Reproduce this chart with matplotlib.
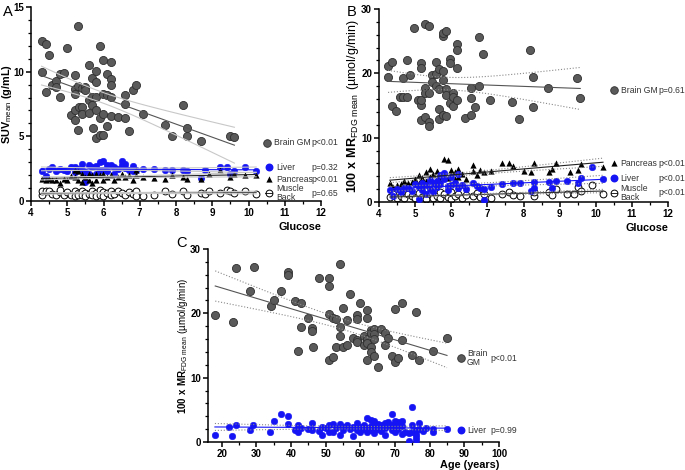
import numpy as np
import matplotlib.pyplot as plt
from matplotlib.ticker import MultipleLocator

plt.rcParams['font.family'] = ['Liberation Sans', 'DejaVu Sans']
plt.rcParams['mathtext.fontset'] = 'custom'
plt.rcParams['mathtext.rm'] = 'Liberation Sans'
plt.rcParams['mathtext.bf'] = 'Liberation Sans:bold'

# ---- Panel A: SUVmean vs glucose ----
a_brain_x = [4.29, 4.40, 4.50, 4.29, 4.40, 4.59, 4.70, 4.70, 4.80, 4.91, 4.80, 4.99, 5.30, 5.09,
             5.20, 5.20, 5.20, 5.20, 5.20, 5.31, 5.30, 5.30, 5.40, 5.40, 5.40, 5.50, 5.50, 5.59,
             5.59, 5.59, 5.68, 5.69, 5.69, 5.70, 5.79, 5.79, 5.79, 5.79, 5.79, 5.89, 5.89, 5.89,
             5.99, 5.99, 5.99, 5.99, 6.10, 6.10, 6.10, 6.20, 6.20, 6.20, 6.20, 6.20, 6.40, 6.60,
             6.60, 6.60, 6.70, 6.80, 6.90, 7.10, 7.70, 7.90, 8.19, 8.30, 8.30, 8.70, 9.49, 9.61]
a_brain_y = [12.35, 12.16, 11.3, 9.95, 8.4, 8.94, 9.3, 8.8, 9.8, 9.9, 8.04, 11.86, 13.53, 6.68,
             6.3, 7.0, 8.63, 9.72, 8.3, 7.3, 5.5, 8.9, 8.76, 7.3, 6.75, 8.8, 8.55, 10.5,
             7.78, 6.83, 9.5, 8.04, 7.4, 5.67, 10.05, 9.2, 8.04, 7.0, 4.87, 11.96, 6.44, 5.08,
             10.93, 8.3, 6.7, 5.08, 9.85, 8.17, 5.8, 10.75, 9.4, 8.94, 8.04, 6.57, 6.5, 8.17,
             7.47, 6.44, 5.4, 8.6, 8.94, 6.7, 5.9, 5.03, 7.4, 5.64, 5.03, 4.64, 5.03, 4.95]

a_liver_x = [4.29, 4.40, 4.50, 4.59, 4.70, 4.80, 4.91, 4.99, 5.09, 5.20, 5.20, 5.30, 5.40, 5.40,
             5.50, 5.50, 5.59, 5.59, 5.69, 5.79, 5.79, 5.89, 5.89, 5.99, 5.99, 6.10, 6.10, 6.20,
             6.30, 6.30, 6.40, 6.50, 6.50, 6.60, 6.60, 6.70, 6.80, 6.80, 6.90, 7.10, 7.40, 7.70,
             7.90, 8.19, 8.30, 8.70, 8.80, 9.20, 9.40, 9.49, 9.61, 9.90, 10.21]
a_liver_y = [2.32, 1.93, 2.5, 2.63, 2.32, 2.5, 2.37, 2.32, 2.63, 2.24, 2.63, 2.5, 2.89, 2.37,
             1.47, 2.24, 2.76, 2.11, 2.63, 2.68, 2.11, 3.0, 2.37, 3.09, 2.37, 2.76, 2.32, 2.76,
             2.63, 2.11, 2.5, 3.09, 2.76, 2.89, 2.58, 2.37, 2.7, 2.32, 2.37, 2.45, 2.5, 2.42,
             2.37, 2.37, 2.29, 1.8, 2.37, 2.63, 2.63, 2.06, 2.29, 2.63, 2.29]

a_panc_x = [4.29, 4.40, 4.50, 4.59, 4.70, 4.80, 4.91, 4.99, 5.09, 5.20, 5.20, 5.30, 5.30, 5.40,
            5.40, 5.50, 5.59, 5.59, 5.69, 5.69, 5.79, 5.79, 5.89, 5.99, 5.99, 6.10, 6.20, 6.30,
            6.40, 6.50, 6.60, 6.70, 6.80, 6.90, 6.90, 7.10, 7.40, 7.70, 7.90, 8.19, 8.30, 8.70,
            8.90, 9.20, 9.49, 9.61, 9.90, 10.21]
a_panc_y = [1.68, 1.6, 1.73, 1.6, 1.6, 1.39, 1.73, 1.6, 1.9, 2.42, 1.86, 2.32, 1.6, 1.47,
            2.06, 1.86, 2.11, 1.6, 1.98, 1.39, 2.11, 1.6, 1.98, 2.11, 1.6, 1.86, 1.98, 1.6,
            1.86, 2.11, 1.86, 1.98, 1.6, 1.98, 2.37, 1.86, 1.8, 1.68, 1.98, 1.86, 1.73, 1.68,
            2.06, 2.42, 1.86, 2.11, 1.98, 1.98]

a_musc_x = [4.29, 4.29, 4.40, 4.50, 4.59, 4.70, 4.80, 4.80, 4.91, 4.99, 5.09, 5.20, 5.20, 5.30,
            5.30, 5.40, 5.40, 5.50, 5.50, 5.59, 5.69, 5.69, 5.79, 5.79, 5.89, 5.89, 5.99, 5.99,
            6.10, 6.20, 6.20, 6.30, 6.40, 6.50, 6.60, 6.70, 6.80, 6.90, 6.90, 7.10, 7.40, 7.70,
            7.90, 8.19, 8.30, 8.70, 8.80, 8.90, 9.20, 9.40, 9.49, 9.61, 9.90, 10.21]
a_musc_y = [0.5, 0.75, 0.8, 0.8, 0.55, 0.45, 0.7, 0.85, 0.5, 0.7, 0.5, 0.75, 0.4, 0.6,
            0.45, 0.8, 0.5, 0.65, 0.4, 0.55, 0.8, 0.45, 0.6, 0.35, 0.85, 0.5, 0.7, 0.4,
            0.6, 0.75, 0.45, 0.55, 0.8, 0.6, 0.45, 0.7, 0.55, 0.8, 0.4, 0.35, 0.5, 0.8,
            0.55, 0.8, 0.45, 0.6, 0.55, 0.75, 0.65, 0.85, 0.75, 0.65, 0.8, 0.55]

# ---- Panel B: MRFDG vs glucose ----
b_brain_x = [4.25, 4.25, 4.36, 4.36, 4.47, 4.57, 4.66, 4.66, 4.77, 4.77, 4.87, 4.97, 5.07, 5.16,
             5.16, 5.16, 5.16, 5.16, 5.27, 5.27, 5.27, 5.27, 5.37, 5.37, 5.37, 5.37, 5.47, 5.47,
             5.57, 5.57, 5.57, 5.66, 5.66, 5.66, 5.66, 5.76, 5.76, 5.76, 5.76, 5.76, 5.86, 5.86,
             5.86, 5.86, 5.96, 5.96, 5.96, 6.06, 6.06, 6.06, 6.16, 6.16, 6.16, 6.16, 6.37, 6.56,
             6.56, 6.56, 6.67, 6.77, 6.77, 6.87, 7.07, 7.67, 7.87, 8.17, 8.26, 8.26, 8.67, 9.47,
             9.57]
b_brain_y = [21.2, 19.4, 21.8, 14.9, 14.2, 16.3, 16.4, 19.3, 16.3, 22.0, 19.8, 27.0, 15.8, 21.6,
             20.8, 15.1, 15.9, 12.8, 27.7, 17.7, 16.9, 13.2, 27.3, 12.5, 11.8, 17.0, 19.8, 18.6,
             21.7, 18.1, 19.9, 17.5, 20.6, 14.4, 12.9, 20.3, 19.0, 13.6, 25.8, 26.3, 26.6, 17.6,
             16.7, 13.3, 22.2, 21.6, 15.4, 15.0, 16.9, 16.3, 24.5, 23.7, 20.8, 15.9, 13.1, 17.7,
             16.2, 13.6, 14.8, 25.6, 18.0, 23.0, 15.8, 15.5, 12.9, 23.7, 19.4, 14.8, 17.8, 19.3,
             16.1]

b_panc_x = [4.3, 4.4, 4.5, 4.6, 4.7, 4.8, 4.9, 5.0, 5.1, 5.1, 5.2, 5.2, 5.3, 5.3, 5.4, 5.4, 5.5,
            5.5, 5.6, 5.6, 5.7, 5.7, 5.8, 5.8, 5.9, 5.9, 6.0, 6.0, 6.1, 6.1, 6.2, 6.2, 6.3, 6.4,
            6.6, 6.6, 6.7, 6.8, 6.9, 7.1, 7.4, 7.6, 7.7, 8.0, 8.3, 8.2, 8.7, 8.8, 8.9, 9.3, 9.5,
            9.6, 10.2]
b_panc_y = [3.0, 2.4, 2.6, 2.8, 3.2, 2.9, 3.1, 3.5, 3.0, 4.2, 3.8, 2.6, 4.6, 3.3, 5.2, 3.9, 4.4,
            3.0, 4.8, 3.6, 4.0, 3.2, 6.7, 4.5, 6.6, 3.8, 5.0, 4.2, 3.5, 4.6, 5.1, 3.9, 4.4, 3.6,
            5.7, 4.8, 4.2, 5.0, 4.6, 4.8, 6.0, 6.0, 5.6, 4.8, 6.0, 4.7, 4.7, 5.1, 6.1, 4.6, 5.0,
            5.9, 5.4]

b_liver_x = [4.3, 4.4, 4.5, 4.6, 4.7, 4.8, 4.9, 5.0, 5.1, 5.1, 5.2, 5.2, 5.3, 5.3, 5.4, 5.4, 5.5,
             5.5, 5.6, 5.6, 5.7, 5.7, 5.8, 5.8, 5.9, 5.9, 6.0, 6.0, 6.1, 6.2, 6.2, 6.3, 6.4, 6.6,
             6.7, 6.8, 6.9, 6.9, 7.1, 7.4, 7.7, 7.9, 8.2, 8.3, 8.3, 8.7, 8.8, 8.9, 9.2, 9.5, 9.6,
             9.9, 10.2]
b_liver_y = [1.8, 1.0, 2.0, 1.5, 2.2, 2.1, 1.7, 2.8, 2.4, 0.4, 3.0, 1.8, 2.6, 1.2, 3.4, 2.0, 2.9,
             1.6, 3.2, 2.3, 4.2, 2.8, 4.5, 3.5, 2.5, 1.9, 3.9, 2.7, 3.0, 4.4, 2.2, 2.6, 2.0, 2.9,
             2.5, 2.2, 0.3, 2.0, 2.4, 2.8, 2.9, 3.0, 1.7, 3.1, 2.2, 3.1, 2.2, 3.3, 3.3, 2.9, 3.8,
             5.4, 3.5]

b_musc_x = [4.3, 4.4, 4.5, 4.6, 4.7, 4.8, 4.9, 5.0, 5.1, 5.2, 5.3, 5.3, 5.4, 5.5, 5.6, 5.7, 5.7,
            5.8, 5.9, 6.0, 6.0, 6.1, 6.2, 6.3, 6.4, 6.6, 6.7, 6.8, 6.9, 7.1, 7.4, 7.6, 7.7, 7.9,
            8.3, 8.3, 8.7, 8.8, 8.9, 9.2, 9.4, 9.5, 9.6, 9.9, 10.2]
b_musc_y = [0.8, 1.3, 0.6, 1.0, 0.7, 1.2, 0.9, 0.6, 1.4, 0.8, 1.1, 0.5, 1.3, 0.7, 1.0, 1.5, 0.6,
            1.2, 0.8, 1.6, 0.5, 1.0, 1.3, 0.7, 1.1, 0.9, 1.4, 0.8, 1.3, 0.6, 1.3, 1.5, 1.1, 1.0,
            1.0, 1.5, 1.5, 1.1, 2.0, 1.3, 1.3, 2.3, 1.7, 2.7, 1.2]

# ---- Panel C: MRFDG vs age ----
c_brain_x = [18.1, 23.1, 24.0, 28.1, 29.2, 34.1, 35.0, 37.0, 39.0, 39.0, 41.0, 42.1, 43.0, 43.0,
             45.0, 46.0, 46.0, 46.4, 48.0, 51.0, 51.0, 51.0, 51.0, 52.0, 52.0, 53.0, 53.0, 54.0,
             54.0, 54.0, 55.0, 55.0, 56.0, 56.0, 57.0, 58.0, 59.0, 59.0, 59.0, 59.0, 60.0, 61.0,
             61.0, 62.0, 62.0, 62.0, 62.0, 62.0, 63.0, 63.0, 63.0, 63.0, 64.0, 64.0, 64.0, 64.0,
             65.0, 66.0, 67.0, 67.0, 68.0, 69.0, 70.0, 70.0, 71.0, 72.0, 72.0, 75.0, 76.0, 77.0,
             81.0, 85.0]
c_brain_y = [19.7, 18.6, 27.0, 23.5, 27.2, 21.1, 22.1, 23.5, 26.5, 25.9, 21.9, 14.2, 21.6, 17.9,
             19.2, 17.7, 17.2, 14.7, 25.5, 25.5, 24.3, 19.9, 12.8, 19.2, 13.2, 19.1, 14.7, 27.6,
             17.9, 16.4, 20.8, 14.7, 18.9, 15.1, 23.0, 16.2, 19.8, 19.1, 15.9, 15.6, 21.6, 16.5,
             15.0, 20.5, 19.3, 16.0, 15.4, 12.8, 17.4, 16.9, 14.7, 14.0, 17.6, 16.8, 16.0, 13.4,
             11.7, 17.6, 16.9, 15.1, 16.1, 13.4, 20.7, 12.4, 13.0, 21.6, 15.8, 13.5, 20.2, 12.8,
             14.2, 16.2]

c_liver_x = [18, 22, 23, 24, 28, 29, 34, 35, 37, 39, 39, 41, 42, 42, 43, 45, 46, 46, 48, 49, 49,
             50, 51, 51, 52, 52, 53, 54, 54, 55, 55, 56, 57, 58, 58, 59, 59, 60, 60, 61, 61, 62,
             62, 62, 63, 63, 63, 64, 64, 64, 65, 65, 66, 66, 67, 67, 67, 68, 68, 69, 69, 69, 70,
             70, 70, 71, 71, 71, 72, 72, 72, 73, 74, 74, 75, 75, 75, 76, 76, 76, 76, 77, 77, 78,
             79, 81, 81, 85]
c_liver_y = [1.1, 2.4, 0.9, 2.7, 1.8, 2.7, 1.6, 3.3, 4.4, 4.0, 2.8, 1.9, 2.7, 1.5, 2.2, 2.0, 2.9,
             1.9, 1.7, 2.4, 1.1, 2.1, 2.6, 1.6, 2.8, 1.5, 2.2, 2.8, 1.1, 2.4, 1.8, 2.7, 2.0, 2.4,
             1.0, 2.9, 1.8, 2.3, 1.5, 2.6, 2.0, 3.8, 2.2, 1.6, 3.4, 2.5, 1.9, 3.2, 2.3, 1.4, 2.0,
             2.8, 2.6, 1.7, 3.0, 2.2, 1.1, 2.5, 3.1, 4.3, 2.7, 1.9, 3.3, 2.4, 1.6, 3.1, 2.8, 2.0,
             3.3, 2.5, 1.2, 1.6, 0.15, 1.4, 5.4, 2.6, 1.5, 1.8, 1.2, 0.8, 0.3, 2.9, 2.0, 1.7, 2.2,
             2.0, 1.5, 2.0]

GRAY = '#5a5a5a'
BLUE = '#1414f5'
KEY_FS = 6.2


def fit_line(x, y):
    x = np.asarray(x, float)
    y = np.asarray(y, float)
    n = len(x)
    b, a = np.polyfit(x, y, 1)
    xs = np.linspace(x.min(), x.max(), 60)
    yhat = a + b * xs
    s = np.sqrt(np.sum((y - (a + b * x)) ** 2) / (n - 2))
    se = s * np.sqrt(1 / n + (xs - x.mean()) ** 2 / np.sum((x - x.mean()) ** 2))
    return xs, yhat, yhat - 1.99 * se, yhat + 1.99 * se


def draw_fit(ax, x, y, color, ci_style=':', ci_color='#8a8a8a'):
    xs, yhat, lo, hi = fit_line(x, y)
    ax.plot(xs, yhat, color=color, lw=0.8, zorder=4)
    ax.plot(xs, lo, color=ci_color, lw=0.8, ls=ci_style, zorder=4)
    ax.plot(xs, hi, color=ci_color, lw=0.8, ls=ci_style, zorder=4)


def brain(ax, x, y):
    ax.scatter(x, y, s=34, color=GRAY, edgecolors='#2e2e2e', linewidths=0.6, zorder=3)


def liver(ax, x, y):
    ax.scatter(x, y, s=22, color=BLUE, edgecolors=BLUE, linewidths=0.4, zorder=3)


def pancreas(ax, x, y):
    ax.scatter(x, y, s=20, marker='^', color='black', linewidths=0, zorder=3)


def muscle(ax, x, y):
    ax.scatter(x, y, s=24, facecolors='white', edgecolors='black', linewidths=0.7, zorder=2)


def key(ax, xm, y, kind, label, pval, xt, xp):
    tr = ax.transAxes
    if kind == 'brain':
        ax.scatter([xm], [y], s=30, color=GRAY, edgecolors='#2e2e2e', linewidths=0.6, transform=tr, clip_on=False)
    elif kind == 'liver':
        ax.scatter([xm], [y], s=22, color=BLUE, transform=tr, clip_on=False)
    elif kind == 'pancreas':
        ax.scatter([xm], [y], s=20, marker='^', color='black', linewidths=0, transform=tr, clip_on=False)
    else:
        ax.scatter([xm], [y], s=24, facecolors='white', edgecolors='black', linewidths=0.7, transform=tr, clip_on=False)
        ax.plot([xm - 0.012, xm + 0.012], [y, y], color='black', lw=0.6, transform=tr, clip_on=False)
    ax.text(xt, y, label, transform=tr, fontsize=KEY_FS, color='#333333', va='center', ha='left', linespacing=0.95)
    ax.text(xp, y, pval, transform=tr, fontsize=KEY_FS, color='#333333', va='center', ha='left')


def style(ax):
    for s in ['top', 'right']:
        ax.spines[s].set_visible(False)
    for s in ['left', 'bottom']:
        ax.spines[s].set_linewidth(1.1)
    ax.tick_params(which='major', length=3.5, width=1.1, labelsize=7, direction='out', pad=1.5)
    ax.tick_params(which='minor', length=2.2, width=0.9, direction='out')


def bold_ticks(ax):
    for lab in ax.get_xticklabels() + ax.get_yticklabels():
        lab.set_fontweight('bold')


fig = plt.figure(figsize=(6.85, 4.70), dpi=100)

# A
axA = fig.add_axes([0.0453, 0.5723, 0.4234, 0.4128])
brain(axA, a_brain_x, a_brain_y)
muscle(axA, a_musc_x, a_musc_y)
liver(axA, a_liver_x, a_liver_y)
pancreas(axA, a_panc_x, a_panc_y)
draw_fit(axA, a_brain_x, a_brain_y, '#555555', ci_style='-', ci_color='#c8c8c8')
draw_fit(axA, a_liver_x, a_liver_y, BLUE, ci_style='-', ci_color='#c8c8c8')
draw_fit(axA, a_panc_x, a_panc_y, '#222222', ci_style='-', ci_color='#c8c8c8')
draw_fit(axA, a_musc_x, a_musc_y, '#555555', ci_style='-', ci_color='#c8c8c8')
axA.set_xlim(4, 12)
axA.set_ylim(0, 15)
axA.xaxis.set_major_locator(MultipleLocator(1))
axA.xaxis.set_minor_locator(MultipleLocator(0.5))
axA.yaxis.set_major_locator(MultipleLocator(5))
axA.yaxis.set_minor_locator(MultipleLocator(1))
style(axA)
axA.set_xlabel('Glucose', loc='right', fontsize=7.8, fontweight='bold', labelpad=3)
axA.set_ylabel(r'$\mathbf{SUV}_{\mathrm{mean}}\ \mathbf{(g/mL)}$', fontsize=7.8)
axA.yaxis.set_label_coords(-0.058, 0.5)
key(axA, 0.814, 0.30, 'brain', 'Brain GM', 'p<0.01', 0.838, 0.966)
key(axA, 0.820, 0.175, 'liver', 'Liver', 'p=0.32', 0.845, 0.966)
key(axA, 0.820, 0.113, 'pancreas', 'Pancreas', 'p<0.01', 0.845, 0.966)
key(axA, 0.820, 0.04, 'muscle', 'Muscle\nBack', 'p=0.65', 0.845, 0.966)
fig.text(0.004, 0.975, 'A', fontsize=10.5, va='center')

# B
axB = fig.add_axes([0.5533, 0.5702, 0.4219, 0.4106])
brain(axB, b_brain_x, b_brain_y)
muscle(axB, b_musc_x, b_musc_y)
pancreas(axB, b_panc_x, b_panc_y)
liver(axB, b_liver_x, b_liver_y)
draw_fit(axB, b_brain_x, b_brain_y, '#555555')
draw_fit(axB, b_panc_x, b_panc_y, '#222222')
draw_fit(axB, b_liver_x, b_liver_y, BLUE)
draw_fit(axB, b_musc_x, b_musc_y, '#333333')
axB.set_xlim(4, 12)
axB.set_ylim(0, 30)
axB.xaxis.set_major_locator(MultipleLocator(1))
axB.xaxis.set_minor_locator(MultipleLocator(0.5))
axB.yaxis.set_major_locator(MultipleLocator(10))
axB.yaxis.set_minor_locator(MultipleLocator(2))
style(axB)
axB.set_xlabel('Glucose', loc='right', fontsize=7.8, fontweight='bold', labelpad=3)
axB.set_ylabel(r'$\mathbf{100\ x\ MR}_{\mathrm{FDG\ mean}}\ \mathrm{(µmol/g/min)}$', fontsize=9)
axB.yaxis.set_label_coords(-0.062, 0.5)
key(axB, 0.813, 0.58, 'brain', 'Brain GM', 'p=0.61', 0.836, 0.966)
key(axB, 0.813, 0.20, 'pancreas', 'Pancreas', 'p<0.01', 0.836, 0.966)
key(axB, 0.813, 0.124, 'liver', 'Liver', 'p<0.01', 0.836, 0.966)
key(axB, 0.813, 0.047, 'muscle', 'Muscle\nBack', 'p<0.01', 0.836, 0.966)
fig.text(0.506, 0.975, 'B', fontsize=10.5, va='center')

# C
axC = fig.add_axes([0.3036, 0.0596, 0.4248, 0.4106])
brain(axC, c_brain_x, c_brain_y)
liver(axC, c_liver_x, c_liver_y)
draw_fit(axC, c_brain_x, c_brain_y, '#555555')
draw_fit(axC, c_liver_x, c_liver_y, BLUE)
axC.set_xlim(16, 100)
axC.set_ylim(0, 30)
axC.set_xticks(np.arange(20, 101, 10))
axC.xaxis.set_minor_locator(MultipleLocator(5))
axC.yaxis.set_major_locator(MultipleLocator(10))
axC.yaxis.set_minor_locator(MultipleLocator(2))
style(axC)
axC.set_xlabel('Age (years)', loc='right', fontsize=7.8, fontweight='bold', labelpad=1)
axC.set_ylabel(r'$\mathbf{100\ x\ MR}_{\mathrm{FDG\ mean}}\ \mathrm{(µmol/g/min)}$', fontsize=7)
axC.yaxis.set_label_coords(-0.063, 0.5)
key(axC, 0.87, 0.435, 'brain', 'Brain\nGM', 'p<0.01', 0.89, 0.97)
key(axC, 0.87, 0.062, 'liver', 'Liver', 'p=0.99', 0.89, 0.97)
fig.text(0.258, 0.483, 'C', fontsize=10.5, va='center')

fig.canvas.draw()
for ax in (axA, axB, axC):
    bold_ticks(ax)

fig.savefig('out.png', dpi=100)
